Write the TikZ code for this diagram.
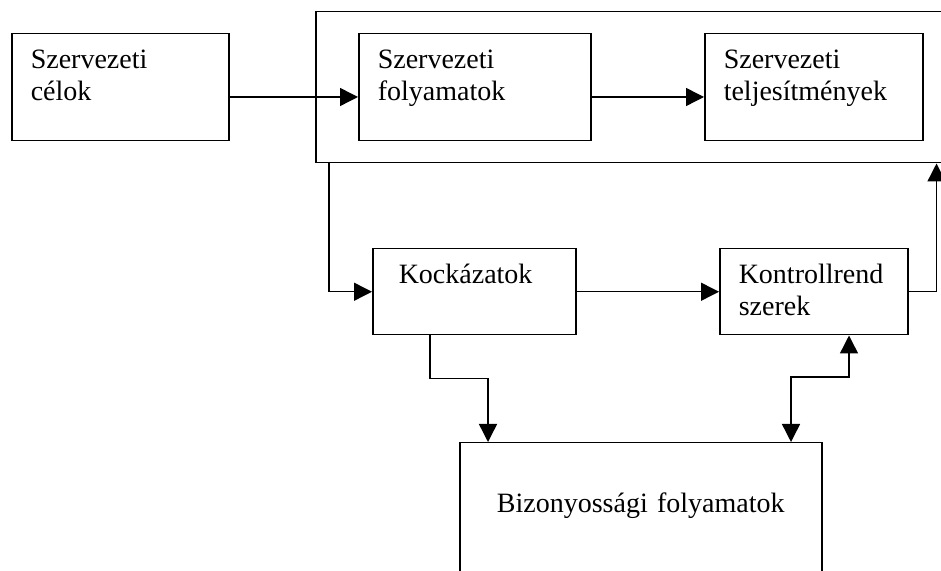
\documentclass[tikz,border=0pt]{standalone}
\usepackage{fontspec}
\setmainfont{Liberation Serif}
\usetikzlibrary{arrows.meta}

\begin{document}
\begin{tikzpicture}[x=1pt,y=1pt,
  doboz/.style={draw,line width=1.5pt,anchor=north west,align=left,
    inner xsep=19pt,inner ysep=16pt,text height=19pt,
    font=\fontsize{28pt}{32pt}\selectfont},
  nyil/.style={line width=1.4pt,-{Triangle[length=18pt,width=18pt]}}]
\useasboundingbox (0,0) rectangle (941,570);
%\node at (470,590) {\textbf{Modell}};
\node[draw,line width=1.5pt,anchor=north west,minimum width=628pt,minimum height=151pt,inner sep=0pt] (szervezet) at (315,559) {};
\node[doboz,text width=179pt,text depth=56pt] (celok) at (11,537) {Szervezeti\\célok};
\node[doboz,text width=194pt,text depth=56pt] (folyamatok) at (358,537) {Szervezeti\\folyamatok};
\node[doboz,text width=180pt,text depth=56pt] (teljesitmenyek) at (704,537) {Szervezeti\\teljesítmények};
\node[doboz,inner xsep=26pt,text width=151pt,text depth=35pt] (kockazatok) at (372,322) {Kockázatok};
\node[doboz,text width=150pt,text depth=35pt] (kontroll) at (719,322) {Kontrollrend\\szerek};
\node[doboz,align=center,text width=324pt,text height=54pt,text depth=74pt] (bizonyossag) at (459,128) {Bizonyossági folyamatok};
\coordinate (sor) at (0,473);
\draw[nyil] (celok.east |- sor) -- (folyamatok.west |- sor);
\draw[nyil] (folyamatok.east |- sor) -- (teljesitmenyek.west |- sor);
\draw[nyil] ([xshift=14pt]szervezet.south west) |- (kockazatok.west);
\draw[nyil] (kockazatok.east) -- (kontroll.west);
\draw[nyil] (kontroll.east) -| ([xshift=-8pt]szervezet.south east);
\draw[nyil] ([xshift=58pt]kockazatok.south west) -- ++(0pt,-43pt) -| ([xshift=29pt]bizonyossag.north west);
\draw[nyil,{Triangle[length=18pt,width=18pt]}-{Triangle[length=18pt,width=18pt]}] ([xshift=332pt]bizonyossag.north west) -- ++(0pt,65pt) -| ([xshift=130pt]kontroll.south west);
\end{tikzpicture}
\end{document}
